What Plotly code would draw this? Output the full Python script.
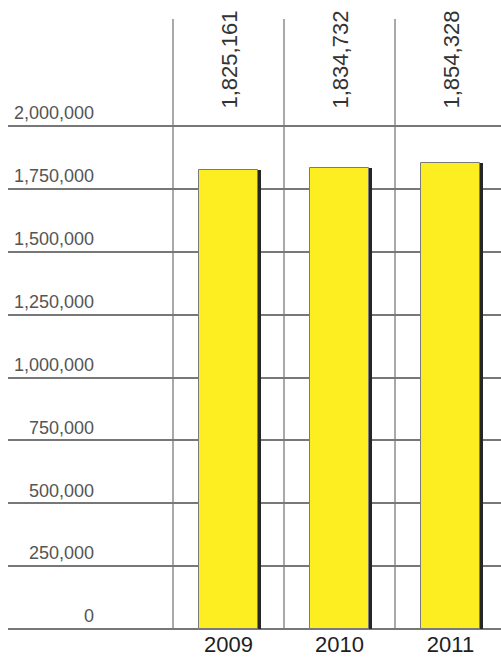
import plotly.graph_objects as go

# Annual totals
years = ["2009", "2010", "2011"]
totals = [1825161, 1834732, 1854328]

# Value-axis ticks
y_ticks = [0, 250000, 500000, 750000, 1000000, 1250000, 1500000, 1750000, 2000000]
y_tick_labels = [f"{v:,}" for v in y_ticks]

W, H = 501, 657
left, top, bottom = 8, 19, 28
plot_w = W - left
plot_h = H - top - bottom

cat_px = 111.0                       # pixel width of one year column
first_edge_px = 173.0                # left border of the first column
x_lo = -0.5 - (first_edge_px - left) / cat_px
x_hi = x_lo + plot_w / cat_px
y_hi = 2000000 * plot_h / 503.0      # 2,000,000 sits 503 px above the baseline

bar_w = 0.54
shadow_dx = 3.0 / cat_px

fig = go.Figure()

# drop shadow to the right of each bar
fig.add_trace(go.Bar(
    x=years, y=totals, width=bar_w, offset=-bar_w / 2 + shadow_dx,
    marker=dict(color="#262626", line=dict(width=0)),
    hoverinfo="skip", showlegend=False,
))
# yellow bars
fig.add_trace(go.Bar(
    x=years, y=totals, width=bar_w, offset=-bar_w / 2,
    marker=dict(color="#FDEE22", line=dict(color="#7a7a7a", width=1)),
    showlegend=False,
))

# vertical column separators
for i in range(len(years) + 1):
    fig.add_shape(type="line", xref="x", yref="paper",
                  x0=i - 0.5, x1=i - 0.5, y0=0, y1=1,
                  line=dict(color="#555555", width=1), layer="below")

# rotated value labels at the top of each column (x given as category index)
for i, v in enumerate(totals):
    fig.add_annotation(x=i, xref="x", yref="paper",
                       y=(plot_h + top - 60) / plot_h, yanchor="middle",
                       xanchor="center",
                       text=f"{v:,}", textangle=-90, showarrow=False,
                       font=dict(family="Liberation Sans, Arial",
                                 size=22, color="#333333"))

fig.update_layout(
    width=W, height=H,
    margin=dict(l=left, r=0, t=top, b=bottom, pad=0),
    paper_bgcolor="white", plot_bgcolor="white",
    barmode="overlay", bargap=0,
    font=dict(family="Liberation Sans, Arial", color="#333333"),
    xaxis=dict(type="category", range=[x_lo, x_hi], showgrid=False,
               showline=False, ticks="", zeroline=False,
               tickfont=dict(size=22, color="#1e1e1e")),
    yaxis=dict(range=[0, y_hi], tickvals=y_ticks, ticktext=y_tick_labels,
               showgrid=True, gridcolor="#777777", gridwidth=1.5,
               zeroline=True, zerolinecolor="#777777", zerolinewidth=1.5,
               showline=False, ticks="",
               anchor="free", position=(94 - left) / plot_w,
               ticklabelshift=-13,
               tickfont=dict(size=18, color="#555555")),
)

fig.write_html("out.html")
